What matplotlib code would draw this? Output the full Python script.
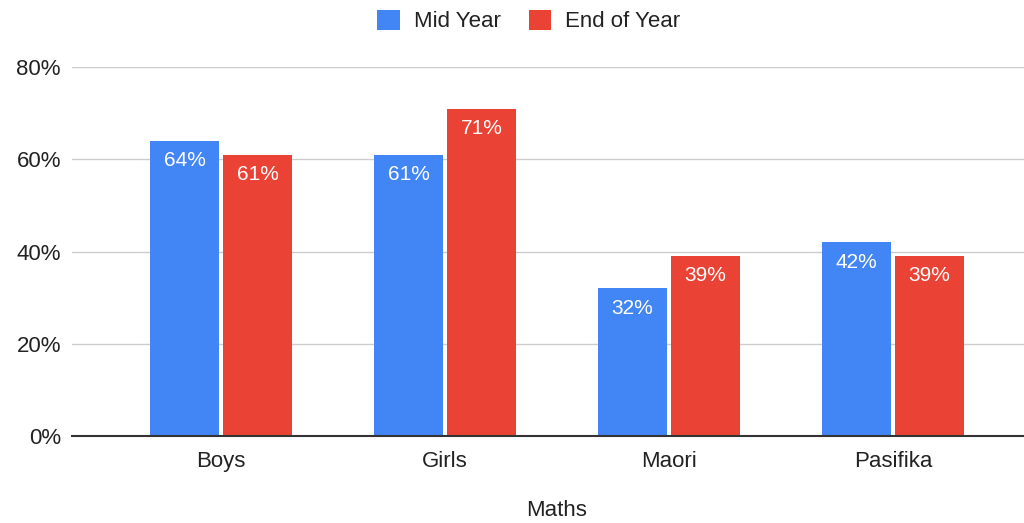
import numpy as np
import matplotlib.pyplot as plt
from matplotlib.ticker import PercentFormatter

plt.rcParams['font.family'] = ['Liberation Sans', 'DejaVu Sans']

# --- DATOS ---
groups = ['Boys', 'Girls', 'Maori', 'Pasifika']
mid_year = [64, 61, 32, 42]
end_of_year = [61, 71, 39, 39]
series_names = ['Mid Year', 'End of Year']
colors = ['#4285F4', '#EA4335']

# --- FIGURA ---
fig = plt.figure(figsize=(10.24, 5.23), dpi=100)
ax = fig.add_axes([72 / 1024, 87 / 523, 952 / 1024, 369 / 523])

x = np.arange(len(groups))
width = 0.308
offset = 0.163

for vals, off, color, name in zip([mid_year, end_of_year], [-offset, offset], colors, series_names):
    bars = ax.bar(x + off, vals, width, color=color, label=name, zorder=2)
    for b, v in zip(bars, vals):
        ax.text(b.get_x() + b.get_width() / 2, v - 4.3, f'{v}%', ha='center', va='center',
                color='white', fontsize=15, zorder=3)

ax.set_ylim(0, 80)
ax.set_xlim(-0.665, 3.585)
ax.set_yticks([0, 20, 40, 60, 80])
ax.yaxis.set_major_formatter(PercentFormatter(decimals=0))
ax.set_xticks(x)
ax.set_xticklabels(groups)
ax.tick_params(axis='both', length=0, labelsize=16, colors='#222222')
ax.tick_params(axis='y', pad=8)
ax.tick_params(axis='x', pad=11)

ax.grid(axis='y', color='#cccccc', linewidth=1, zorder=0)
for s in ['top', 'right', 'left']:
    ax.spines[s].set_visible(False)
ax.spines['bottom'].set_color('#333333')
ax.spines['bottom'].set_linewidth(1.5)
ax.spines['bottom'].set_zorder(4)

ax.set_xlabel('Maths', fontsize=16, color='#222222')
ax.xaxis.set_label_coords((557 - 72) / 952, -(510 - 436) / 369)
ax.xaxis.label.set_va('center')

leg = fig.legend(loc='center', bbox_to_anchor=(529 / 1024, 1 - 21 / 523), ncol=2, frameon=False,
                 fontsize=16, handlelength=1.0, handleheight=1.0, handletextpad=0.65,
                 columnspacing=1.25)
for t in leg.get_texts():
    t.set_color('#222222')

fig.savefig('out.png', dpi=100)
